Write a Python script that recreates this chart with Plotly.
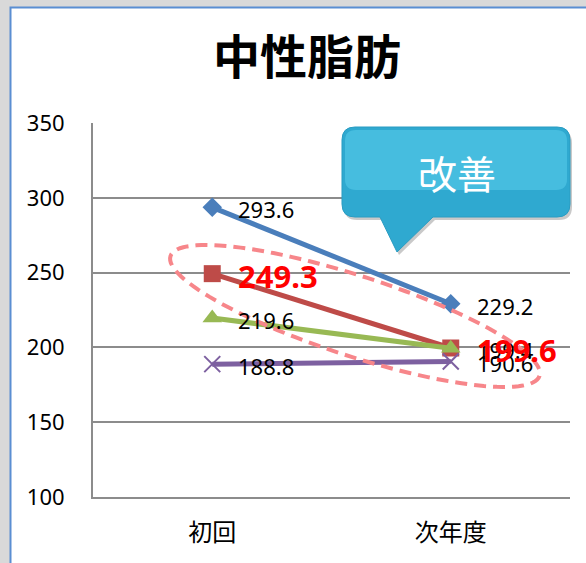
import math
import plotly.graph_objects as go

# ---- data ----
categories = ["初回", "次年度"]
series_names = ["系列1", "系列2", "系列3", "系列4"]
blue_vals = [293.6, 229.2]
red_vals = [249.3, 199.6]
green_vals = [219.6, 199.4]
purple_vals = [188.8, 190.6]
y_ticks = [100, 150, 200, 250, 300, 350]
title_text = "中性脂肪"
callout_text = "改善"

W, H = 586, 563
L, R, T, B = 93, 16, 123, 66
PW, PH = W - L - R, H - T - B

def px(x):
    return (x - L) / PW

def py(y):
    return (H - B - y) / PH

x_idx = list(range(len(categories)))
fig = go.Figure()

styles = [
    (blue_vals, "#4a7ebb", dict(symbol="diamond", size=15, color="#4a7ebb")),
    (red_vals, "#be4b48", dict(symbol="square", size=17, color="#be4b48")),
    (green_vals, "#98b954", dict(symbol="triangle-up", size=17, color="#98b954")),
    (purple_vals, "#7d60a0", dict(symbol="x-thin", size=16, color="#7d60a0",
                                 line=dict(width=2, color="#7d60a0"))),
]
for name, (vals, col, mk) in zip(series_names, styles):
    fig.add_trace(go.Scatter(x=x_idx, y=vals, mode="lines+markers", name=name,
                             line=dict(color=col, width=5), marker=mk,
                             hoverinfo="skip"))

# data labels
label_font = dict(family="Noto Sans, Open Sans, sans-serif", size=22, color="black")
red_font = dict(family="Noto Sans, Open Sans, sans-serif", size=31, color="#ff0000")
for vals, font, bold in [(blue_vals, label_font, False), (green_vals, label_font, False),
                         (purple_vals, label_font, False), (red_vals, red_font, True)]:
    for xi, v in zip(x_idx, vals):
        fig.add_annotation(x=xi, y=v, xref="x", yref="y", text=(f"<b>{v}</b>" if bold else f"{v}"),
                           showarrow=False, xanchor="left", yanchor="middle",
                           xshift=24, yshift=-2, font=font)

shapes = []
# chart frame (white with blue border) over gray page
shapes.append(dict(type="rect", xref="paper", yref="paper", layer="below",
                   x0=px(10.5), x1=px(620), y0=py(7.5), y1=py(620),
                   fillcolor="white", line=dict(color="#5a8ed2", width=2)))

# dashed ellipse
cx, cy, a, b, th = 355, 316, 194, 40, math.radians(18)
pts = []
for i in range(121):
    t = 2 * math.pi * i / 120
    ex = cx + a * math.cos(t) * math.cos(th) - b * math.sin(t) * math.sin(th)
    ey = cy + a * math.cos(t) * math.sin(th) + b * math.sin(t) * math.cos(th)
    pts.append((px(ex), py(ey)))
path = "M " + " L ".join(f"{x:.5f},{y:.5f}" for x, y in pts) + " Z"
shapes.append(dict(type="path", xref="paper", yref="paper", layer="above", path=path,
                   line=dict(color="#f7868a", width=4, dash="12px,7px")))

# callout
def callout_path(x0, y0, x1, y1, r, bx0, bx1, tipx, tipy, dx=0, dy=0):
    P = [("M", [(x0 + r, y0)]), ("L", [(x1 - r, y0)]), ("Q", [(x1, y0), (x1, y0 + r)]),
         ("L", [(x1, y1 - r)]), ("Q", [(x1, y1), (x1 - r, y1)]),
         ("L", [(bx1, y1)]), ("L", [(tipx, tipy)]), ("L", [(bx0, y1)]),
         ("L", [(x0 + r, y1)]), ("Q", [(x0, y1), (x0, y1 - r)]),
         ("L", [(x0, y0 + r)]), ("Q", [(x0, y0), (x0 + r, y0)])]
    s = ""
    for cmd, ps in P:
        s += cmd + " " + " ".join(f"{px(x + dx):.5f},{py(y + dy):.5f}" for x, y in ps) + " "
    return s + "Z"

shapes.append(dict(type="path", xref="paper", yref="paper", layer="above",
                   path=callout_path(342, 127, 570, 217, 13, 380, 433, 397, 252, 2, 3),
                   fillcolor="rgba(60,60,60,0.28)", line=dict(width=0)))
shapes.append(dict(type="path", xref="paper", yref="paper", layer="above",
                   path=callout_path(342, 127, 570, 217, 13, 380, 433, 397, 252),
                   fillcolor="#2fa9d0", line=dict(color="#2a9cc2", width=1)))
shapes.append(dict(type="path", xref="paper", yref="paper", layer="above",
                   path=callout_path(345, 130, 567, 190, 11, 400, 401, 400, 190),
                   fillcolor="rgba(90,205,235,0.55)", line=dict(width=0)))

fig.add_annotation(x=px(457), y=py(172), xref="paper", yref="paper", text=callout_text,
                   showarrow=False, xanchor="center", yanchor="middle",
                   font=dict(family="Noto Sans CJK JP", size=39, color="white"))

fig.update_layout(
    width=W, height=H,
    margin=dict(l=L, r=R, t=T, b=B, pad=0),
    paper_bgcolor="#d9d9d9", plot_bgcolor="white",
    showlegend=False,
    shapes=shapes,
    title=dict(text=f"<b>{title_text}</b>", x=px(307), xref="paper", xanchor="center",
               y=1 - 58 / H, yanchor="middle",
               font=dict(family="Noto Sans CJK JP", size=47, color="black")),
    xaxis=dict(range=[-0.5, 1.5], tickvals=x_idx, ticktext=categories, showgrid=False,
               zeroline=False, showline=True, linecolor="#8c8c8c", linewidth=2,
               ticks="outside", ticklen=13, tickcolor="rgba(0,0,0,0)",
               tickfont=dict(family="Noto Sans CJK JP", size=24, color="black"),
               fixedrange=True),
    yaxis=dict(range=[100, 350], tickvals=y_ticks, showgrid=True, gridcolor="#8c8c8c",
               gridwidth=2, zeroline=False, showline=True, linecolor="#8c8c8c", linewidth=2,
               ticks="outside", ticklen=22, tickcolor="rgba(0,0,0,0)",
               tickfont=dict(family="Noto Sans, Open Sans, sans-serif", size=22, color="black"),
               fixedrange=True),
)

fig.write_html("out.html",
               config={"displayModeBar": False},
               post_script="document.body.style.margin='0';document.body.style.background='#d9d9d9';")
